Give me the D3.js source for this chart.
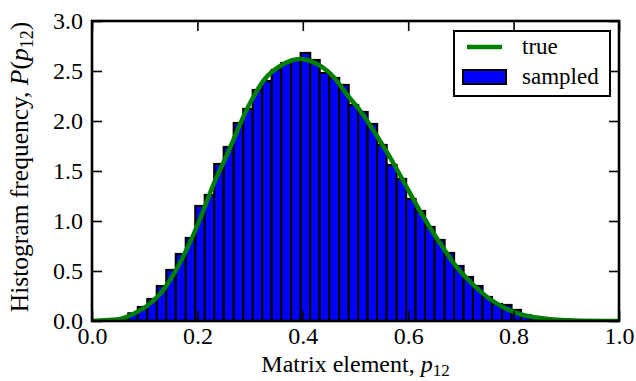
<!DOCTYPE html>
<html>
<head>
<meta charset="utf-8">
<script src="https://cdn.jsdelivr.net/npm/d3@7"></script>
<style>
  html, body { margin: 0; padding: 0; background: #fff; }
  svg text { font-family: "Liberation Serif", "DejaVu Serif", serif; fill: #000; }
</style>
</head>
<body>
<svg id="chart" width="636" height="381"></svg>
<script>
// histogram bin edges (x, data units) and bin heights
var binEdges = [0.014, 0.032, 0.050, 0.069, 0.087, 0.105, 0.123, 0.141, 0.159, 0.178,
                0.196, 0.214, 0.232, 0.250, 0.269, 0.287, 0.305, 0.323, 0.341, 0.359,
                0.378, 0.396, 0.414, 0.432, 0.450, 0.469, 0.487, 0.505, 0.523, 0.541,
                0.559, 0.578, 0.596, 0.614, 0.632, 0.650, 0.669, 0.687, 0.705, 0.723,
                0.741, 0.759, 0.778, 0.796, 0.814, 0.832, 0.850, 0.869, 0.887, 0.905, 0.923];
var sampled = [0.00, 0.005, 0.02, 0.077, 0.14, 0.22, 0.35, 0.51, 0.67, 0.83,
               1.15, 1.26, 1.57, 1.74, 1.98, 2.12, 2.31, 2.40, 2.51, 2.58,
               2.61, 2.68, 2.61, 2.48, 2.43, 2.36, 2.16, 2.09, 1.97, 1.76,
               1.56, 1.42, 1.22, 1.10, 0.94, 0.81, 0.68, 0.55, 0.44, 0.35,
               0.24, 0.17, 0.16, 0.11, 0.06, 0.04, 0.02, 0.01, 0.005, 0.00];
// the "true" curve, sampled points
var trueX = [0.000, 0.015, 0.053, 0.078, 0.104, 0.129, 0.154, 0.180, 0.205, 0.230,
             0.256, 0.297, 0.328, 0.360, 0.395, 0.423, 0.455, 0.486, 0.512, 0.543,
             0.575, 0.597, 0.629, 0.660, 0.692, 0.724, 0.755, 0.787, 0.818, 0.850,
             0.882, 0.930, 1.000];
var trueY = [0.000, 0.004, 0.020, 0.070, 0.150, 0.270, 0.460, 0.720, 1.020, 1.360,
             1.660, 2.150, 2.420, 2.560, 2.620, 2.580, 2.460, 2.250, 2.080, 1.830,
             1.550, 1.340, 1.040, 0.780, 0.540, 0.360, 0.220, 0.120, 0.060, 0.030,
             0.012, 0.003, 0.000];
var xTicks = [0.0, 0.2, 0.4, 0.6, 0.8, 1.0];
var yTicks = [0.0, 0.5, 1.0, 1.5, 2.0, 2.5, 3.0];
var legendLabels = ['true', 'sampled'];

var margin = {left: 92, right: 17, top: 21, bottom: 60};
var width = 636 - margin.left - margin.right;
var height = 381 - margin.top - margin.bottom;

var svg = d3.select('#chart');
var g = svg.append('g').attr('transform', 'translate(' + margin.left + ',' + margin.top + ')');

var x = d3.scaleLinear().domain([0, 1]).range([0, width]);
var y = d3.scaleLinear().domain([0, 3]).range([height, 0]);

g.append('defs').append('clipPath').attr('id', 'plotclip')
  .append('rect').attr('width', width).attr('height', height);

var plot = g.append('g').attr('clip-path', 'url(#plotclip)');

// bars
plot.selectAll('rect.bar')
    .data(sampled)
    .enter().append('rect')
    .attr('class', 'bar')
    .attr('x', function (d, i) { return x(binEdges[i]); })
    .attr('width', function (d, i) { return x(binEdges[i + 1]) - x(binEdges[i]); })
    .attr('y', function (d) { return y(d); })
    .attr('height', function (d) { return y(0) - y(d); })
    .attr('fill', '#0000ff')
    .attr('stroke', '#000')
    .attr('stroke-width', 2.2);

// true curve
var line = d3.line()
    .x(function (d) { return x(d[0]); })
    .y(function (d) { return y(d[1]); })
    .curve(d3.curveMonotoneX);
plot.append('path')
    .datum(d3.zip(trueX, trueY))
    .attr('d', line)
    .attr('fill', 'none')
    .attr('stroke', '#008000')
    .attr('stroke-width', 4.5);

// axes, ticks pointing inward on all four sides
var fmt = d3.format('.1f');
function styleAxis(sel) {
    sel.select('.domain').remove();
    sel.selectAll('.tick line').attr('stroke', '#000').attr('stroke-width', 1.6);
    sel.selectAll('.tick text').style('font-size', '24px');
}
g.append('g').attr('transform', 'translate(0,' + height + ')')
    .call(d3.axisBottom(x).tickValues(xTicks).tickSize(-10).tickPadding(6).tickFormat(fmt))
    .call(styleAxis);
g.append('g')
    .call(d3.axisTop(x).tickValues(xTicks).tickSize(-10).tickFormat(''))
    .call(styleAxis);
g.append('g')
    .call(d3.axisLeft(y).tickValues(yTicks).tickSize(-10).tickPadding(9).tickFormat(fmt))
    .call(styleAxis);
g.append('g').attr('transform', 'translate(' + width + ',0)')
    .call(d3.axisRight(y).tickValues(yTicks).tickSize(-10).tickFormat(''))
    .call(styleAxis);

// frame
g.append('rect')
    .attr('width', width).attr('height', height)
    .attr('fill', 'none').attr('stroke', '#000').attr('stroke-width', 2.6);

// axis labels
var xl = svg.append('text')
    .attr('x', margin.left + width / 2)
    .attr('y', 372)
    .attr('text-anchor', 'middle')
    .style('font-size', '24px');
xl.append('tspan').text('Matrix element, ');
xl.append('tspan').style('font-style', 'italic').text('p');
xl.append('tspan').attr('dy', 4).style('font-size', '17px').text('12');

var yl = svg.append('text')
    .attr('transform', 'translate(28,167) rotate(-90)')
    .attr('text-anchor', 'middle')
    .style('font-size', '25.5px');
yl.append('tspan').text('Histogram frequency, ');
yl.append('tspan').style('font-style', 'italic').text('P');
yl.append('tspan').text('(');
yl.append('tspan').style('font-style', 'italic').text('p');
yl.append('tspan').attr('dy', 5).style('font-size', '18px').text('12');
yl.append('tspan').attr('dy', -5).text(')');

// legend
var lg = svg.append('g');
lg.append('rect')
    .attr('x', 454).attr('y', 31).attr('width', 156).attr('height', 65)
    .attr('fill', '#fff').attr('stroke', '#000').attr('stroke-width', 2);
lg.append('line')
    .attr('x1', 467).attr('x2', 502).attr('y1', 47).attr('y2', 47)
    .attr('stroke', '#008000').attr('stroke-width', 4.5);
lg.append('rect')
    .attr('x', 463).attr('y', 70).attr('width', 43).attr('height', 14)
    .attr('fill', '#0000ff').attr('stroke', '#000').attr('stroke-width', 2);
lg.selectAll('text.leg')
    .data(legendLabels)
    .enter().append('text')
    .attr('class', 'leg')
    .attr('x', 522)
    .attr('y', function (d, i) { return 54 + i * 30; })
    .style('font-size', '23px')
    .text(function (d) { return d; });
</script>
</body>
</html>
